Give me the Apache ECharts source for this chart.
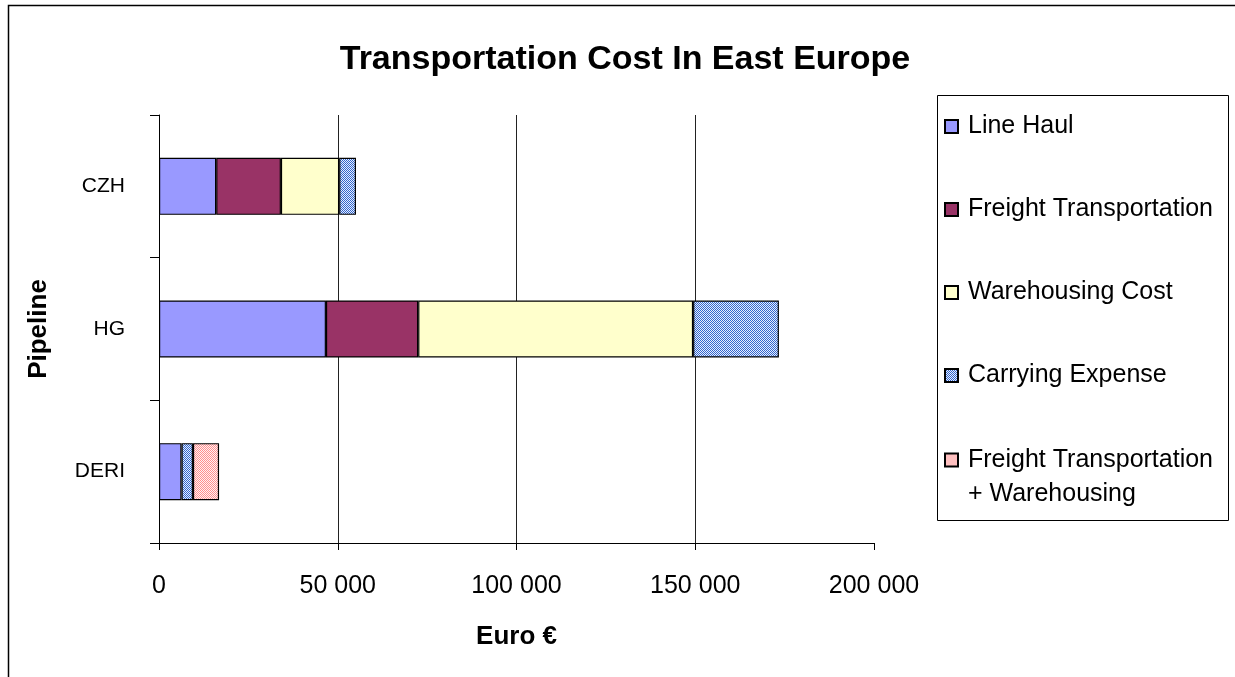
<!DOCTYPE html>
<html>
<head>
<meta charset="utf-8">
<style>
  html, body { margin: 0; padding: 0; background: #fff; }
  #chart { width: 1235px; height: 677px; }
</style>
<script src="https://cdn.jsdelivr.net/npm/echarts@6/dist/echarts.min.js"></script>
</head>
<body>
<div id="chart"></div>
<script>
// Pipelines, top to bottom
const categories = ['CZH', 'HG', 'DERI'];

// Cost components in euro per pipeline
const lineHaul           = [16000, 46700, 6300];
const freightTransport   = [18100, 25800, null];
const warehousingCost    = [16300, 76900, null];
const carryingExpense    = [4700, 24000, 3200];
const freightWarehousing = [null, null, 7300];

const seriesNames = [
  'Line Haul',
  'Freight Transportation',
  'Warehousing Cost',
  'Carrying Expense',
  'Freight Transportation\n+ Warehousing'
];

const xTicks = [0, 50000, 100000, 150000, 200000];

// Small checkerboard fills for the hatched segments
function checker(a, b) {
  const c = document.createElement('canvas');
  c.width = 2; c.height = 2;
  const g = c.getContext('2d');
  g.fillStyle = b; g.fillRect(0, 0, 2, 2);
  g.fillStyle = a; g.fillRect(0, 0, 1, 1); g.fillRect(1, 1, 1, 1);
  return { image: c, repeat: 'repeat' };
}

const fills = [
  '#9999FF',
  '#993366',
  '#FFFFCC',
  checker('#3366CC', '#E6EEFF'),
  checker('#FF8F8F', '#FFF2F2')
];
const values = [lineHaul, freightTransport, warehousingCost, carryingExpense, freightWarehousing];

const FONT = '"Liberation Sans", Arial, sans-serif';

function fmt(v) {
  return String(v).replace(/\B(?=(\d{3})+(?!\d))/g, ' ');
}

const chart = echarts.init(document.getElementById('chart'), null, { renderer: 'canvas' });

chart.setOption({
  backgroundColor: '#fff',
  animation: false,
  title: {
    text: 'Transportation Cost In East Europe',
    left: 620, top: 38, textAlign: 'center',
    textStyle: { fontFamily: FONT, fontSize: 34, fontWeight: 'bold', color: '#000' }
  },
  graphic: [
    { type: 'rect', shape: { x: 8.5, y: 5.5, width: 1400, height: 900 }, style: { fill: 'none', stroke: '#000', lineWidth: 1.5 }, silent: true },
    { type: 'rect', shape: { x: 937.5, y: 95.5, width: 291, height: 425 }, style: { fill: '#fff', stroke: '#000', lineWidth: 1 }, z: 0, silent: true }
  ],
  legend: [
    {
      data: seriesNames.slice(0, 4),
      orient: 'vertical', left: 944, top: 114, padding: 0,
      itemGap: 58, itemWidth: 13, itemHeight: 13, icon: 'rect',
      selectedMode: false, z: 5,
      textStyle: { fontFamily: FONT, fontSize: 25, color: '#000', padding: [0, 0, 0, 5] }
    },
    {
      // two-line entry: a blank leading line keeps the icon beside the first line
      data: seriesNames.slice(4),
      orient: 'vertical', left: 944, top: 409, padding: 0,
      itemWidth: 13, itemHeight: 13, icon: 'rect',
      selectedMode: false, z: 5,
      formatter: name => '\n' + name,
      textStyle: { fontFamily: FONT, fontSize: 25, lineHeight: 34, color: '#000', padding: [0, 0, 0, 5] }
    }
  ],
  grid: { left: 159, right: 361, top: 115, bottom: 134, containLabel: false },
  xAxis: {
    type: 'value', min: xTicks[0], max: xTicks[xTicks.length - 1], interval: 50000,
    name: 'Euro €', nameLocation: 'middle', nameGap: 81,
    nameTextStyle: { fontFamily: FONT, fontSize: 26, fontWeight: 'bold', color: '#000' },
    axisLine: { show: true, lineStyle: { color: '#000', width: 1 } },
    axisTick: { show: true, length: 7, lineStyle: { color: '#000' } },
    axisLabel: { margin: 31, fontFamily: FONT, fontSize: 25, color: '#000', formatter: fmt },
    splitLine: { show: true, showMaxLine: false, lineStyle: { color: '#222', width: 1 } }
  },
  yAxis: {
    type: 'category', data: categories, inverse: true,
    name: 'Pipeline', nameLocation: 'middle', nameGap: 107, nameRotate: 90,
    nameTextStyle: { fontFamily: FONT, fontSize: 26, fontWeight: 'bold', color: '#000' },
    axisLine: { show: true, lineStyle: { color: '#000', width: 1 } },
    axisTick: { show: true, length: 9, lineStyle: { color: '#000' } },
    axisLabel: { margin: 34, fontFamily: FONT, fontSize: 21, color: '#000' },
    splitLine: { show: false }
  },
  series: seriesNames.map((name, i) => ({
    name: name,
    type: 'bar',
    stack: 'cost',
    barWidth: '40%',
    data: values[i],
    itemStyle: { color: fills[i], borderColor: '#000', borderWidth: 1.2 },
    emphasis: { disabled: true }
  }))
});
</script>
</body>
</html>
